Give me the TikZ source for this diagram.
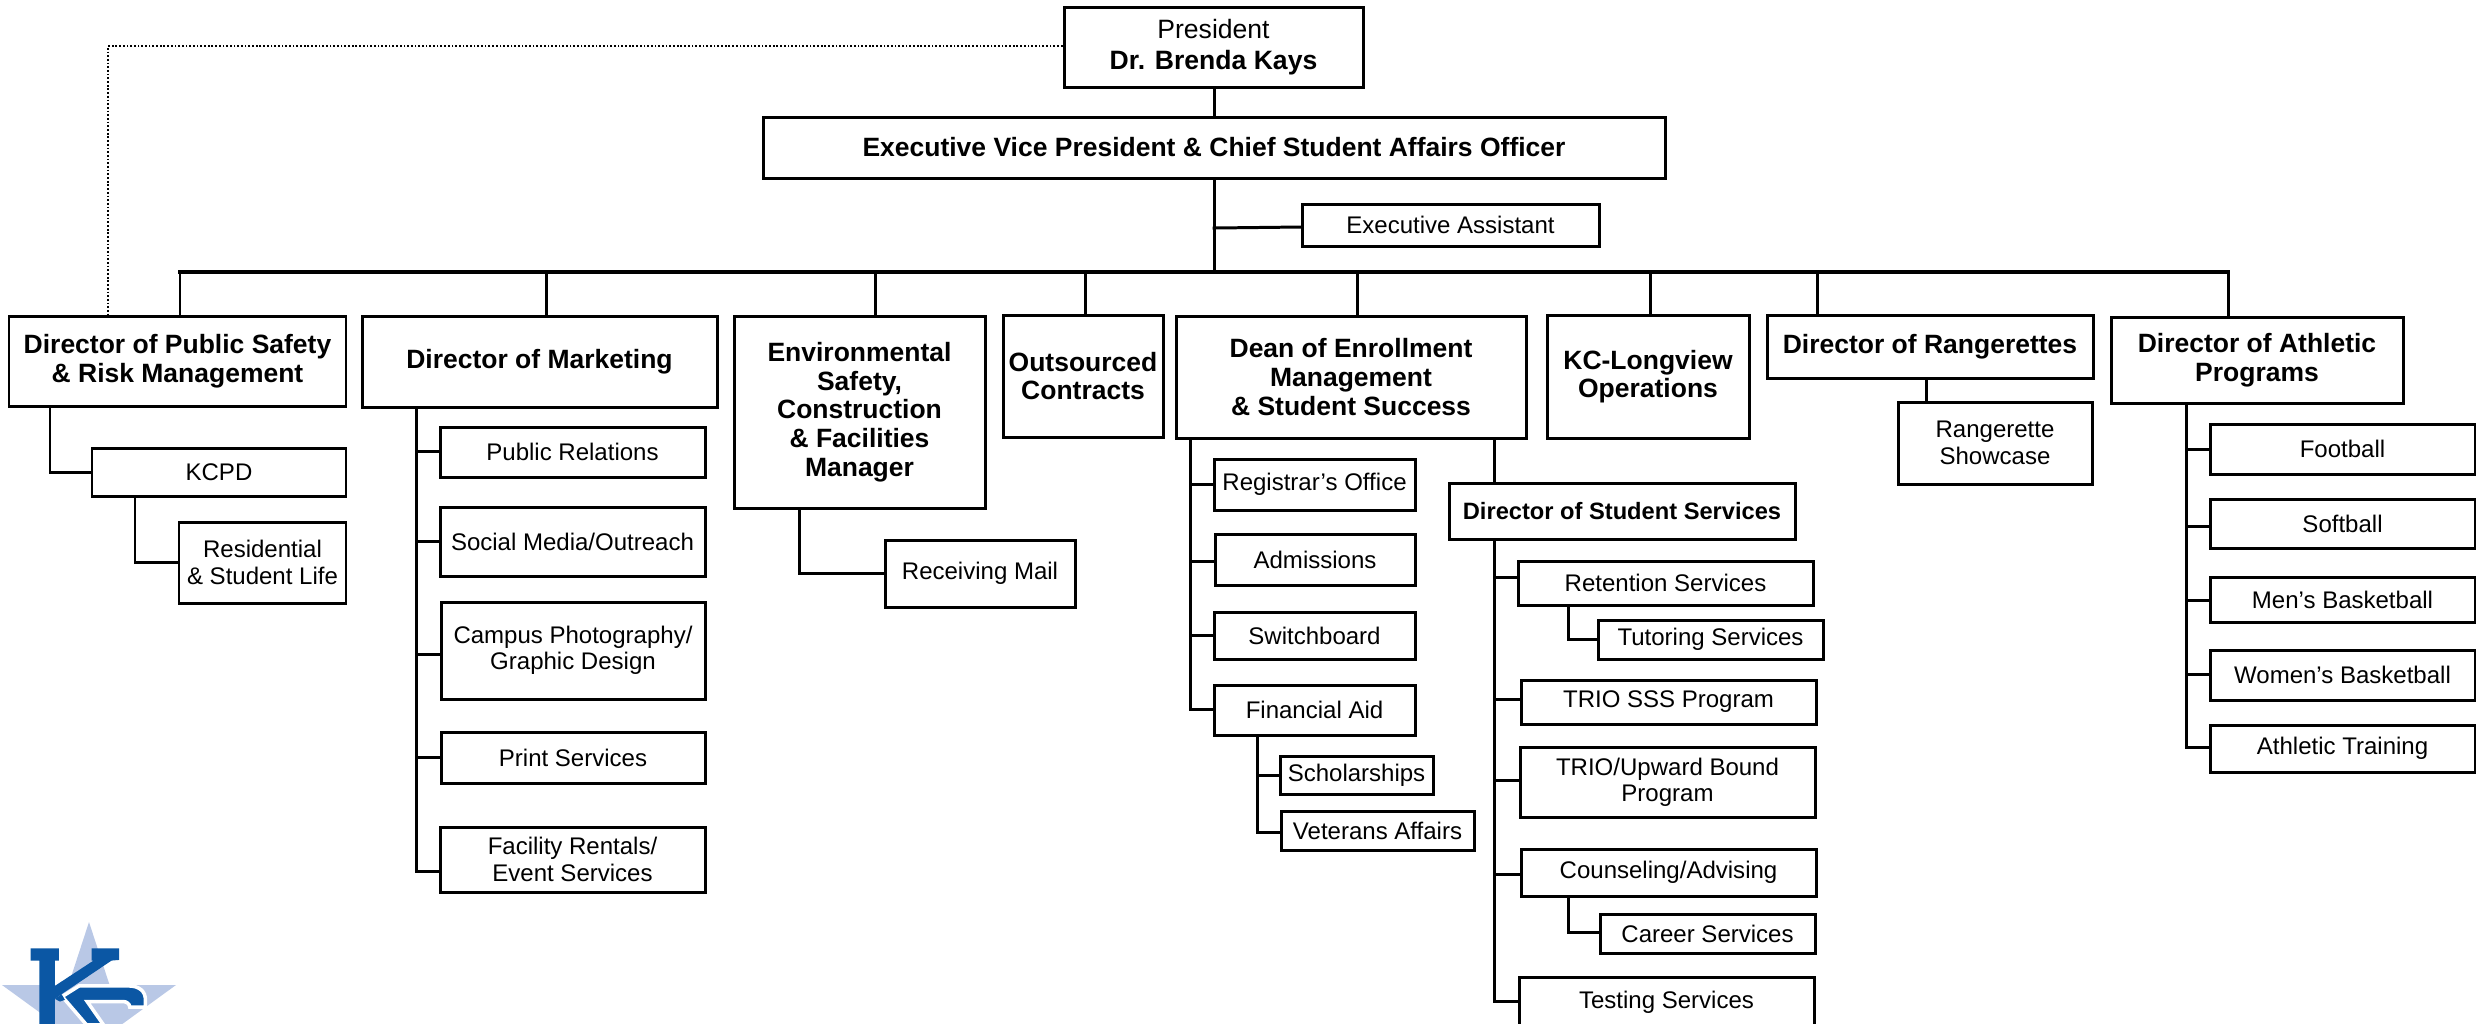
\documentclass[tikz,border=0pt]{standalone}
\usepackage{fontspec}
\setmainfont{Liberation Sans}
\definecolor{kcblue}{HTML}{0B57A4}
\definecolor{kcstar}{HTML}{B9C8E6}
\newcommand{\bx}[7][rg]{\node[#1] (#2) at ({(#3+#5)/2},{(#4+#6)/2}) [minimum width={(#5-#3)*0.01cm},minimum height={(#6-#4)*0.01cm}] {#7};}
\newcommand{\stub}[3]{\draw[conn] (#2.west |- 0,#3) -- (#1 |- 0,#3);}
\tikzset{
  rg/.style={draw=black,line width=0.85pt,fill=white,inner sep=0pt,align=center,font=\fontsize{6.83pt}{7.5pt}\selectfont},
  bd/.style={rg,font=\fontsize{7.53pt}{8.15pt}\selectfont\bfseries},
  bds/.style={rg,font=\fontsize{6.73pt}{8pt}\selectfont\bfseries},
  topbox/.style={rg,font=\fontsize{7.55pt}{8.6pt}\selectfont},
  conn/.style={draw=black,line width=0.85pt,line cap=rect,line join=miter},
  busline/.style={conn,line width=1pt},
  dots/.style={draw=black,line width=0.75pt,dash pattern=on 0.5pt off 0.55pt}
}
\begin{document}
\begin{tikzpicture}[x=0.01cm,y=-0.01cm]
\useasboundingbox (0,0) rectangle (2476,1023);
\clip (0,0) rectangle (2476,1023);
% logo
\fill[kcstar] (89,922) -- (109.6,985) -- (176,985) -- (122.3,1024) -- (143,1087) -- (89,1048) -- (35,1087) -- (55.7,1024) -- (2,985) -- (68.4,985) -- cycle;
\begin{scope}[shift={(0,900)},x=0.00333cm,y=-0.00333cm]
\path[kcblue,fill] (92,145) -- (177,145) -- (177,182) -- (165,182) -- (165,258) -- (281,182) -- (275,182) -- (275,145) -- (358,145) -- (358,180) -- (335,182) -- (185,283) -- (165,297) -- (165,375) -- (118,375) -- (118,182) -- (92,182) -- cycle;
\path[draw=white,line width=1pt,fill=kcblue] (222,268) -- (238,258) -- (385,258) .. controls (420,258) and (437,275) .. (437,300) -- (437,322) -- (390,322) .. controls (390,312) and (380,305) .. (370,305) -- (262,305) -- (311,375) -- (260,375) -- (187,290) -- cycle;
\fill[kcblue] (165,297) -- (185,283) -- (195,300) -- (180,305) -- cycle;
\end{scope}
% boxes
\bx[topbox]{pres}{1064}{7}{1363}{87}{President\\\textbf{Dr. Brenda Kays}}
\bx[bd]{evp}{763}{117}{1665}{178}{Executive Vice President \& Chief Student Affairs Officer}
\bx{ea}{1302}{204}{1599}{246}{Executive Assistant}
\bx[bd]{dps}{9}{316}{346}{406}{Director of Public Safety\\\& Risk Management}
\bx[bd]{mkt}{362}{316}{717}{407}{Director of Marketing}
\bx[bd]{env}{734}{316}{985}{508}{Environmental\\Safety,\\Construction\\\& Facilities\\Manager}
\bx[bd]{out}{1003}{315}{1163}{437}{Outsourced\\Contracts}
\bx[bd]{dean}{1176}{316}{1526}{438}{Dean of Enrollment\\Management\\\& Student Success}
\bx[bd]{kcl}{1547}{315}{1749}{438}{KC-Longview\\Operations}
\bx[bd]{ran}{1767}{315}{2093}{378}{Director of Rangerettes}
\bx[bd]{ath}{2111}{317}{2403}{403}{Director of Athletic\\Programs}
\bx{show}{1898}{402}{2092}{484}{Rangerette\\Showcase}
\bx{kcpd}{92}{448}{346}{496}{KCPD}
\bx{res}{179}{522}{346}{603}{Residential\\\& Student Life}
\bx{mail}{885}{540}{1075}{607}{Receiving Mail}
\bx{pr}{440}{427}{705}{477}{Public Relations}
\bx{soc}{440}{507}{705}{576}{Social Media/Outreach}
\bx{cam}{441}{602}{705}{699}{Campus Photography/\\Graphic Design}
\bx{pri}{441}{732}{705}{783}{Print Services}
\bx{fac}{440}{827}{705}{892}{Facility Rentals/\\Event Services}
\bx{reg}{1214}{459}{1415}{510}{Registrar’s Office}
\bx{adm}{1215}{534}{1415}{585}{Admissions}
\bx{swi}{1214}{612}{1415}{659}{Switchboard}
\bx{fin}{1214}{685}{1415}{735}{Financial Aid}
\bx{sch}{1280}{756}{1433}{794}{Scholarships}
\bx{vet}{1281}{811}{1474}{850}{Veterans Affairs}
\bx[bds]{dss}{1449}{483}{1795}{539}{Director of Student Services}
\bx{ret}{1518}{561}{1813}{605}{Retention Services}
\bx{tut}{1598}{620}{1823}{659}{Tutoring Services}
\bx{sss}{1521}{680}{1816}{724}{TRIO SSS Program}
\bx{ub}{1520}{747}{1815}{817}{TRIO/Upward Bound\\Program}
\bx{cou}{1521}{849}{1816}{896}{Counseling/Advising}
\bx{car}{1600}{914}{1815}{953}{Career Services}
\bx{tes}{1519}{977}{1814}{1027}{Testing Services}
\bx{fb}{2210}{424}{2475}{474}{Football}
\bx{sb}{2210}{499}{2475}{548}{Softball}
\bx{mb}{2210}{577}{2475}{622}{Men’s Basketball}
\bx{wb}{2210}{650}{2475}{700}{Women’s Basketball}
\bx{at}{2210}{725}{2475}{772}{Athletic Training}
% named guides
\coordinate (bus) at (0,272);
\coordinate (stem) at (1214,0);
\coordinate (tpub) at (50,0);
\coordinate (tkc) at (135,0);
\coordinate (tenv) at (799,0);
\coordinate (tmkt) at (416,0);
\coordinate (tdean) at (1190,0);
\coordinate (tfin) at (1257,0);
\coordinate (tdss) at (1494,0);
\coordinate (tret) at (1568,0);
\coordinate (tath) at (2186,0);
\coordinate (tshow) at (1926,0);
\coordinate (dotx) at (108,0);
% main stem and bus
\draw[conn] (pres.south -| stem) -- (evp.north -| stem);
\draw[conn] (evp.south -| stem) -- (stem |- bus);
\draw[conn] (ea.west |- 0,227) -- (stem |- 0,228);
\draw[busline] (180,272) -- (2228,272);
\foreach \nd/\xx in {dps/180,mkt/546,env/875,out/1085,dean/1357,kcl/1650,ran/1817,ath/2228}
  \draw[conn] (\xx,272) -- (\nd.north -| \xx,0);
% dotted
\draw[dots] (pres.west |- 0,46) -- (dotx |- 0,46) -- (dotx |- dps.north);
% public safety
\draw[conn] (dps.south -| tpub) |- (kcpd.west);
\draw[conn] (kcpd.south -| tkc) |- (res.west);
% env
\draw[conn] (env.south -| tenv) |- (mail.west);
% rangerettes
\draw[conn] (ran.south -| tshow) -- (show.north -| tshow);
% marketing
\draw[conn] (mkt.south -| tmkt) -- (tmkt |- 0,871);
\stub{tmkt}{pr}{451}\stub{tmkt}{soc}{541}\stub{tmkt}{cam}{654}\stub{tmkt}{pri}{757}\stub{tmkt}{fac}{871}
% dean
\draw[conn] (dean.south -| tdean) -- (tdean |- 0,709);
\stub{tdean}{reg}{484}\stub{tdean}{adm}{561}\stub{tdean}{swi}{635}\stub{tdean}{fin}{709}
\draw[conn] (fin.south -| tfin) -- (tfin |- 0,832);
\stub{tfin}{sch}{775}\stub{tfin}{vet}{832}
% dss
\draw[conn] (dean.south -| tdss) -- (dss.north -| tdss);
\draw[conn] (dss.south -| tdss) -- (tdss |- 0,1001);
\stub{tdss}{ret}{577}\stub{tdss}{sss}{699}\stub{tdss}{ub}{780}\stub{tdss}{cou}{874}\stub{tdss}{tes}{1001}
\draw[conn] (ret.south -| tret) |- (tut.west);
\draw[conn] (cou.south -| tret) |- (car.west |- 0,932);
% athletics
\draw[conn] (ath.south -| tath) -- (tath |- 0,747);
\stub{tath}{fb}{449}\stub{tath}{sb}{526}\stub{tath}{mb}{600}\stub{tath}{wb}{674}\stub{tath}{at}{747}
\end{tikzpicture}
\end{document}
